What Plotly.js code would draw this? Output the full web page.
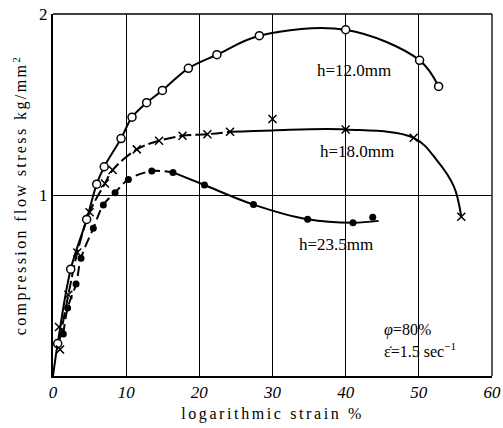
<!DOCTYPE html>
<html>
<head>
<meta charset="utf-8">
<script src="https://cdn.plot.ly/plotly-3.0.1.min.js"></script>
<style>
html,body{margin:0;padding:0;background:#fff;}
#chart{width:503px;height:428px;}
#chart .xtitle{letter-spacing:2.6px;}
#chart .ytitle{letter-spacing:2.4px;}
</style>
</head>
<body>
<div id="chart"></div>
<script>
// h=12.0mm (open circles)
const circX = [0.64, 2.42, 4.6, 5.97, 7.0, 9.3, 10.8, 12.8, 14.95, 18.5, 22.4, 28.2, 40.0, 50.1, 52.7];
const circY = [0.179, 0.59, 0.865, 1.06, 1.156, 1.312, 1.43, 1.51, 1.578, 1.70, 1.775, 1.88, 1.913, 1.744, 1.60];
const circLineX = [0, 0.64, 2.42, 4.6, 5.97, 7.0, 9.3, 10.8, 12.8, 14.95, 18.5, 22.4, 28.2, 40.0, 50.1, 52.7];
const circLineY = [0, 0.179, 0.59, 0.865, 1.06, 1.156, 1.312, 1.43, 1.51, 1.578, 1.70, 1.775, 1.88, 1.913, 1.744, 1.60];

// h=18.0mm (crosses)
const crossX = [0.82, 0.96, 2.1, 3.32, 5.0, 7.1, 8.15, 11.45, 14.5, 17.7, 21.1, 24.2, 30.0, 40.0, 49.3, 55.8];
const crossY = [0.271, 0.146, 0.449, 0.682, 0.905, 1.064, 1.138, 1.252, 1.30, 1.327, 1.336, 1.349, 1.42, 1.362, 1.316, 0.88];
const crossDashX = [0.9, 2.1, 3.32, 5.0, 7.1, 8.15, 11.45, 14.5, 17.7, 21.1, 24.2];
const crossDashY = [0.2, 0.449, 0.682, 0.905, 1.064, 1.138, 1.252, 1.30, 1.327, 1.336, 1.349];
const crossSolidX = [24.2, 30.0, 40.0, 49.3, 52.5, 54.8, 55.8];
const crossSolidY = [1.349, 1.357, 1.362, 1.316, 1.19, 1.046, 0.88];

// h=23.5mm (filled dots)
const dotX = [1.41, 2.0, 3.15, 3.83, 5.51, 6.88, 8.48, 10.3, 13.5, 16.4, 20.7, 27.4, 34.8, 41.0, 43.7];
const dotY = [0.232, 0.376, 0.508, 0.651, 0.816, 0.945, 1.013, 1.086, 1.132, 1.125, 1.055, 0.947, 0.866, 0.847, 0.877];
const dotDashX = [1.41, 2.0, 3.15, 3.83, 5.51, 6.88, 8.48, 10.3, 13.5, 16.4];
const dotDashY = [0.232, 0.376, 0.508, 0.651, 0.816, 0.945, 1.013, 1.086, 1.132, 1.125];
const dotSolidX = [16.4, 20.7, 27.4, 34.8, 41.0, 44.5];
const dotSolidY = [1.125, 1.055, 0.947, 0.866, 0.847, 0.857];

const xTicks = [0, 10, 20, 30, 40, 50, 60];
const xTickText = ['0', '10', '20', '30', '40', '50', '60'];
const yTicks = [1, 2];
const yTickText = ['1', '2'];

const serif = 'Liberation Serif, DejaVu Serif, serif';

function line(x, y, dash) {
  return {x: x, y: y, mode: 'lines', type: 'scatter', hoverinfo: 'skip',
    line: {color: '#000', width: 2, shape: 'spline', smoothing: 1, dash: dash || 'solid'}};
}

const data = [
  line(circLineX, circLineY, 'solid'),
  line(crossDashX, crossDashY, '12px,4px'),
  line(crossSolidX, crossSolidY, 'solid'),
  line(dotDashX, dotDashY, '10px,5px'),
  line(dotSolidX, dotSolidY, 'solid'),
  {x: circX, y: circY, mode: 'markers', type: 'scatter',
    marker: {symbol: 'circle', size: 8, color: '#fff', line: {color: '#000', width: 1.5}}},
  {x: crossX, y: crossY, mode: 'markers', type: 'scatter',
    marker: {symbol: 'x-thin-open', size: 8, color: '#000', line: {color: '#000', width: 1.5}}},
  {x: dotX, y: dotY, mode: 'markers', type: 'scatter',
    marker: {symbol: 'circle', size: 7, color: '#000', line: {width: 0}}}
];

const layout = {
  width: 503, height: 428,
  margin: {l: 53, r: 11, t: 14, b: 52},
  paper_bgcolor: '#fff', plot_bgcolor: '#fff',
  showlegend: false,
  xaxis: {
    range: [0, 60], tickvals: xTicks, ticktext: xTickText,
    showgrid: true, gridcolor: '#000', gridwidth: 1,
    showline: true, linecolor: '#000', linewidth: 2,
    ticks: '', zeroline: false,
    tickfont: {family: serif, size: 17, color: '#000', style: 'italic'},
    title: {text: 'logarithmic strain %', font: {family: serif, size: 16, color: '#000'}, standoff: 6}
  },
  yaxis: {
    range: [0, 2], tickvals: yTicks, ticktext: yTickText,
    showgrid: true, gridcolor: '#000', gridwidth: 1,
    showline: true, linecolor: '#000', linewidth: 2,
    ticks: '', zeroline: false,
    tickfont: {family: serif, size: 17, color: '#000'},
    title: {text: 'compression flow stress kg/mm<sup>2</sup>', font: {family: serif, size: 16, color: '#000'}, standoff: 8}
  },
  shapes: [
    {type: 'line', xref: 'paper', yref: 'paper', x0: 0, x1: 1, y0: 1, y1: 1, line: {color: '#000', width: 1.3}},
    {type: 'line', xref: 'paper', yref: 'paper', x0: 1, x1: 1, y0: 0, y1: 1, line: {color: '#000', width: 1.3}}
  ],
  annotations: [
    {x: 41.1, y: 1.689, text: 'h=12.0mm', showarrow: false, font: {family: serif, size: 17, color: '#000'}},
    {x: 41.6, y: 1.239, text: 'h=18.0mm', showarrow: false, font: {family: serif, size: 17, color: '#000'}},
    {x: 38.7, y: 0.7245, text: 'h=23.5mm', showarrow: false, font: {family: serif, size: 17, color: '#000'}},
    {x: 44.9, y: 0.252, xanchor: 'left', text: '<i>φ</i>=80%', showarrow: false, font: {family: serif, size: 16, color: '#000'}},
    {x: 44.9, y: 0.145, xanchor: 'left', text: 'ε̇=1.5 sec<sup>−1</sup>', showarrow: false, font: {family: serif, size: 16, color: '#000'}}
  ]
};

Plotly.newPlot('chart', data, layout, {displayModeBar: false, staticPlot: true});
</script>
</body>
</html>
